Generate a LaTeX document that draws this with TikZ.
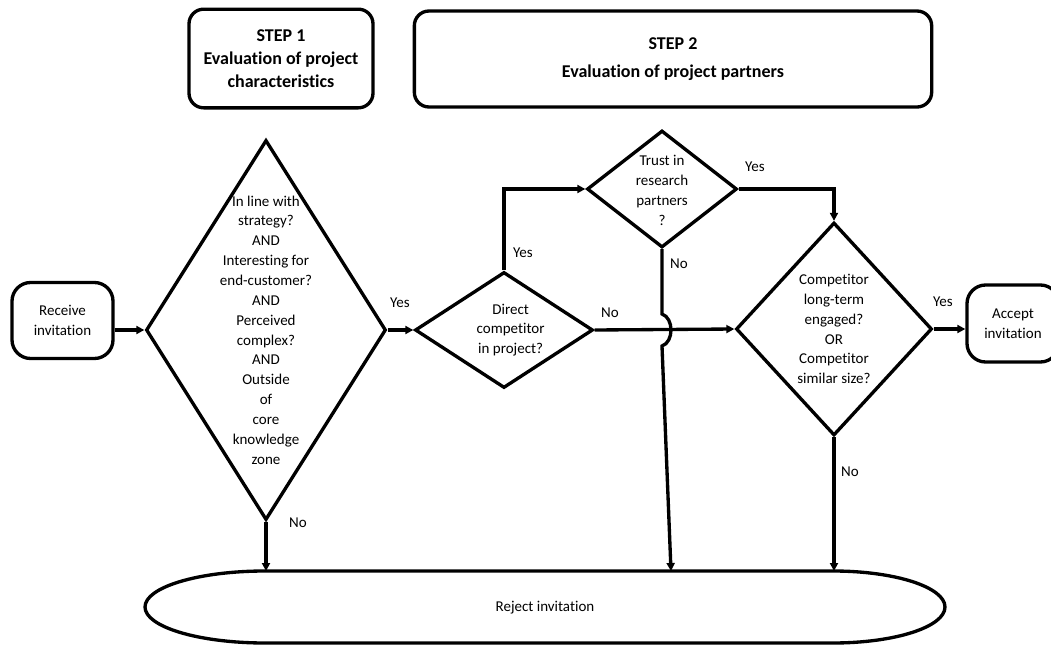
\documentclass[tikz,border=0pt]{standalone}
\usepackage{fontspec}
\setmainfont{Carlito}[Ligatures={NoCommon,NoRequired,NoContextual}]
\usetikzlibrary{shapes.geometric,arrows.meta}
\begin{document}
\begin{tikzpicture}[x=0.75pt,y=-0.75pt,
  every node/.style={font=\fontsize{11.25pt}{14.9pt}\selectfont},
  ln/.style={line width=2.5pt},
  arr/.style={ln,-{Triangle[length=6pt,width=6pt]}},
  dia/.style={draw,ln,diamond,inner sep=0pt},
  term/.style={draw,ln,rounded corners=14pt,align=center,inner sep=0pt},
  stepbox/.style={draw,ln,rounded corners=11pt,align=center,inner sep=0pt,font=\bfseries\fontsize{13.5pt}{17.5pt}\selectfont},
  lbl/.style={inner sep=0pt,align=center}]
\useasboundingbox (0,0) rectangle (1051,646);

% step headers
\node[stepbox,minimum width=138pt,minimum height=74pt] (s1) at (281,58.5) {STEP 1\\Evaluation of project\\characteristics};
\node[stepbox,minimum width=388pt,minimum height=72pt] (s2) at (673,59) {STEP 2\\[4pt]Evaluation of project partners};

% terminals
\node[term,minimum width=75.75pt,minimum height=57pt] (recv) at (62.5,320.5) {Receive\\invitation};
\node[term,minimum width=69pt,minimum height=57.75pt] (acc) at (1013,323.5) {Accept\\invitation};

% decisions
\node[dia,minimum width=180pt,minimum height=285pt,
  label={[lbl]center:In line with\\strategy?\\AND\\Interesting for\\end-customer?\\AND\\Perceived\\complex?\\AND\\Outside\\of\\core\\knowledge\\zone}] (d1) at (266,330) {};
\node[dia,minimum width=133.5pt,minimum height=87pt,
  label={[lbl,xshift=5pt]center:Direct\\competitor\\in project?}] (d2) at (504,330) {};
\node[dia,minimum width=112.5pt,minimum height=87.75pt,
  label={[lbl,yshift=-1pt]center:Trust in\\research\\partners\\?}] (d3) at (662,189) {};
\node[dia,minimum width=147pt,minimum height=159.75pt,
  label={[lbl]center:Competitor\\long-term\\engaged?\\OR\\Competitor\\similar size?}] (d4) at (834,329) {};

% reject terminal
\node[lbl] (rej) at (545,608) {Reject invitation};
\draw[ln] (265,571) -- (833,571)
  arc[start angle=90,end angle=-90,x radius=84pt,y radius=27pt]
  -- (265,643)
  arc[start angle=270,end angle=90,x radius=90pt,y radius=27pt] -- cycle;
\coordinate (rt) at (545,571);
\coordinate (t3) at (671,571);

% connectors
\draw[arr] (d1.west -| recv.east) -- (d1.west);
\draw[arr] (d1.east) -- (d2.west);
\draw[arr] (d2.north) |- (d3.west);
\draw[arr] (d3.east) -| (d4.north);
\draw[arr] (d2.east) -- (d4.west);
\draw[arr] (d4.east) -- (d4.east -| acc.west);
\draw[arr] (d1.south) -- (d1.south |- rt);
\draw[arr] (d4.south) -- (d4.south |- rt);
\draw[arr] (d3.south) -- (662,314) .. controls (674,318) and (674,342) .. (662,346) -- (t3);

% connector labels
\node[lbl] (y1) at (400,303) {Yes};
\node[lbl] (y2) at (523,253) {Yes};
\node[lbl] (n2) at (610,313) {No};
\node[lbl] (y3) at (755,167) {Yes};
\node[lbl] (n3) at (679,264) {No};
\node[lbl] (y4) at (943,302) {Yes};
\node[lbl] (n4) at (850,472) {No};
\node[lbl] (n1) at (298,523) {No};
\end{tikzpicture}
\end{document}
